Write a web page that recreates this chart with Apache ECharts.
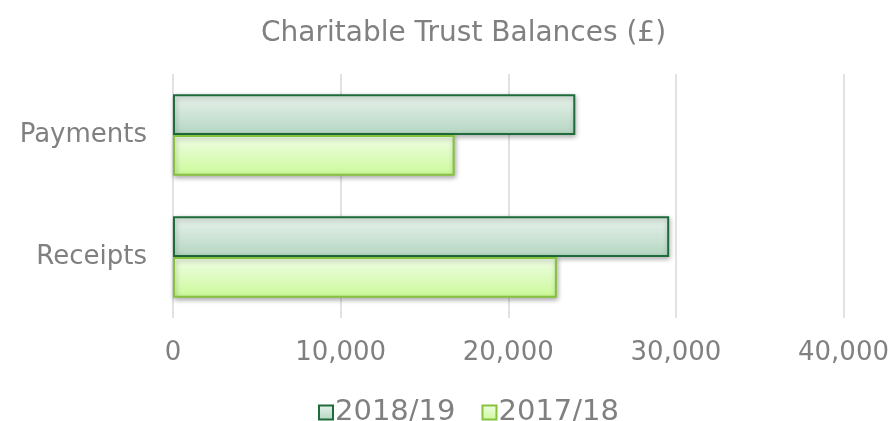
<!DOCTYPE html>
<html>
<head>
<meta charset="utf-8">
<script src="https://cdn.jsdelivr.net/npm/echarts@6/dist/echarts.min.js"></script>
<style>
  html, body { margin: 0; padding: 0; background: #fff; }
  #chart { width: 892px; height: 421px; }
</style>
</head>
<body>
<div id="chart"></div>
<script>
const categories = ['Payments', 'Receipts']
const seriesNames = ['2018/19', '2017/18']
const values2018 = [24000, 29600]
const values2017 = [16800, 22900]

const font = 'DejaVu Sans, Verdana, sans-serif'
const textGrey = '#808080'

const chart = echarts.init(document.getElementById('chart'))

chart.setOption({
  animation: false,
  title: {
    text: 'Charitable Trust Balances (£)',
    left: 256,
    top: 15,
    textStyle: { fontFamily: font, fontSize: 28, fontWeight: 'normal', color: textGrey }
  },
  legend: {
    data: seriesNames,
    top: 393,
    left: 313,
    icon: 'rect',
    itemWidth: 14,
    itemHeight: 14,
    itemGap: 26,
    textStyle: { fontFamily: font, fontSize: 29, color: textGrey, padding: [0, 0, 0, -3] }
  },
  grid: {
    left: 173,
    right: 47,
    top: 74,
    bottom: 103,
    containLabel: false
  },
  xAxis: {
    type: 'value',
    min: 0,
    max: 40000,
    interval: 10000,
    axisLine: { show: false },
    axisTick: { show: false },
    splitLine: { lineStyle: { color: '#d9d9d9', width: 1.5 } },
    axisLabel: {
      fontFamily: font,
      fontSize: 26,
      color: textGrey,
      margin: 22,
      formatter: (v) => v.toLocaleString('en-GB')
    }
  },
  yAxis: {
    type: 'category',
    inverse: true,
    data: categories,
    axisLine: { show: false },
    axisTick: { show: false },
    axisLabel: { fontFamily: font, fontSize: 26, color: textGrey, margin: 26 }
  },
  series: [
    {
      name: seriesNames[0],
      type: 'bar',
      data: values2018,
      barGap: '0%',
      barCategoryGap: '33%',
      itemStyle: {
        color: new echarts.graphic.LinearGradient(0, 0, 0, 1, [
          { offset: 0, color: '#e9f3ed' },
          { offset: 1, color: '#b3d5c0' }
        ]),
        borderColor: '#1f6b3b',
        borderWidth: 2,
        shadowColor: 'rgba(0,0,0,0.3)',
        shadowBlur: 5,
        shadowOffsetX: 1,
        shadowOffsetY: 2
      }
    },
    {
      name: seriesNames[1],
      type: 'bar',
      data: values2017,
      itemStyle: {
        color: new echarts.graphic.LinearGradient(0, 0, 0, 1, [
          { offset: 0, color: '#f0fde7' },
          { offset: 1, color: '#cbfa98' }
        ]),
        borderColor: '#86c23d',
        borderWidth: 2,
        shadowColor: 'rgba(0,0,0,0.3)',
        shadowBlur: 5,
        shadowOffsetX: 1,
        shadowOffsetY: 2
      }
    }
  ]
})
</script>
</body>
</html>
